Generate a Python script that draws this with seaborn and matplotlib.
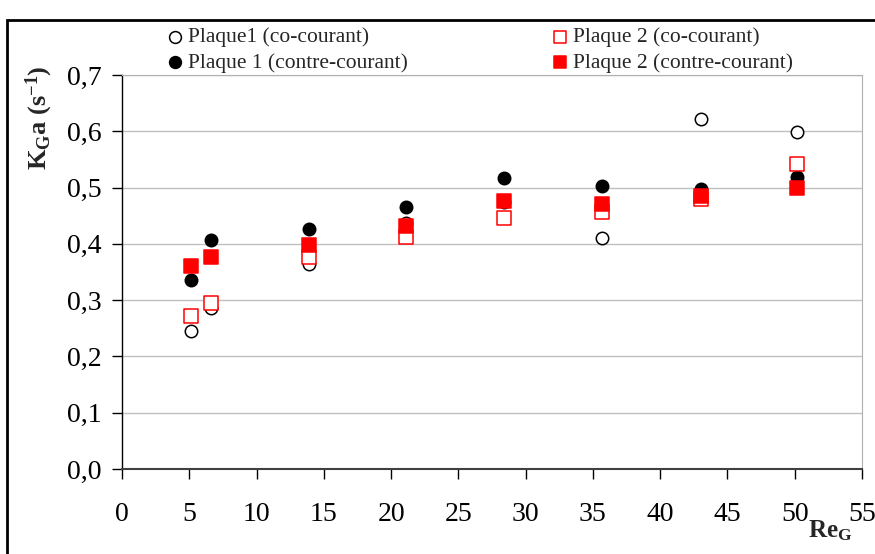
import numpy as np
import pandas as pd
import matplotlib
matplotlib.use("Agg")
import matplotlib.pyplot as plt
import seaborn as sns
from matplotlib.patches import Rectangle
from matplotlib.ticker import FuncFormatter

# -----------------------------------
# Data
# -----------------------------------

re_g = [5.1, 6.6, 13.9, 21.1, 28.4, 35.7, 43.0, 50.2]

plaque1_co = [0.245, 0.286, 0.364, 0.437, 0.475, 0.410, 0.622, 0.599]
plaque1_contre = [0.335, 0.407, 0.426, 0.466, 0.517, 0.502, 0.497, 0.519]
plaque2_co = [0.271, 0.295, 0.377, 0.413, 0.446, 0.456, 0.480, 0.541]
plaque2_contre = [0.360, 0.377, 0.398, 0.432, 0.476, 0.470, 0.485, 0.499]

labels = [
    "Plaque1 (co-courant)",
    "Plaque 1 (contre-courant)",
    "Plaque 2 (co-courant)",
    "Plaque 2 (contre-courant)"
]

x_ticks = list(range(0, 56, 5))
y_ticks = [0.0, 0.1, 0.2, 0.3, 0.4, 0.5, 0.6, 0.7]

# -----------------------------------
# Style
# -----------------------------------

sns.set_style("white")
plt.rcParams["font.family"] = ["Liberation Serif", "DejaVu Serif"]
plt.rcParams["mathtext.fontset"] = "custom"
plt.rcParams["mathtext.rm"] = "Liberation Serif"
plt.rcParams["mathtext.it"] = "Liberation Serif:italic"
plt.rcParams["mathtext.bf"] = "Liberation Serif:bold"

fig = plt.figure(figsize=(8.75, 5.54), dpi=100)
ax = fig.add_axes([122 / 875, 85 / 554, 740 / 875, 394 / 554])

# -----------------------------------
# Series
# -----------------------------------

series = [
    (plaque1_co, "o", "white", "black", 80),
    (plaque1_contre, "o", "black", "black", 80),
    (plaque2_co, "s", "white", "red", 90),
    (plaque2_contre, "s", "red", "red", 90),
]

for (vals, mk, fc, ec, size), lab in zip(series, labels):

    df = pd.DataFrame({"ReG": re_g, "KGa": vals})

    sns.scatterplot(
        data=df,
        x="ReG",
        y="KGa",
        marker=mk,
        s=size,
        facecolor=fc,
        edgecolor=ec,
        linewidth=1.1,
        label=lab,
        ax=ax,
        zorder=3
    )

# -----------------------------------
# Axes
# -----------------------------------

ax.set_xlim(0, 55)
ax.set_ylim(0, 0.7)
ax.set_xticks(x_ticks)
ax.set_yticks(y_ticks)

ax.yaxis.set_major_formatter(
    FuncFormatter(lambda v, p: f"{v:.1f}".replace(".", ","))
)

ax.grid(axis="y", color="#c0c0c0", linewidth=1)
ax.grid(axis="x", visible=False)

ax.spines["left"].set_color("black")
ax.spines["left"].set_linewidth(1)
ax.spines["bottom"].set_color("#404040")
ax.spines["bottom"].set_linewidth(1.5)
ax.spines["top"].set_color("#b0b0b0")
ax.spines["right"].set_color("#b0b0b0")

ax.tick_params(
    axis="both",
    direction="out",
    labelsize=20,
    length=7,
    width=1,
    colors="black",
    bottom=True,
    left=True
)
ax.tick_params(axis="x", pad=17)
ax.tick_params(axis="y", pad=8)

ax.set_xlabel("")
ax.set_ylabel(
    r"$\mathbf{K_Ga\ (s^{-1})}$",
    fontsize=19,
    labelpad=8
)
ax.yaxis.set_label_coords(-0.09, 0.891)
ax.yaxis.label.set_va("bottom")

fig.text(
    808 / 875, 1 - 537 / 554,
    r"$\mathbf{Re_G}$",
    fontsize=18,
    ha="left",
    va="baseline"
)

# -----------------------------------
# Legend
# -----------------------------------

ax.legend(
    loc="upper left",
    bbox_to_anchor=(143 / 875, 1 - 8 / 554),
    bbox_transform=fig.transFigure,
    ncol=2,
    frameon=False,
    fontsize=15.5,
    handlelength=1.2,
    handletextpad=0.0,
    columnspacing=6.45,
    labelspacing=0.25,
    markerscale=0.95
)

# figure frame
fig.patches.append(
    Rectangle(
        (7 / 875, -0.05),
        1.2,
        1.05 - 20 / 554,
        transform=fig.transFigure,
        fill=False,
        edgecolor="black",
        linewidth=2
    )
)

fig.savefig("out.png", dpi=100)
